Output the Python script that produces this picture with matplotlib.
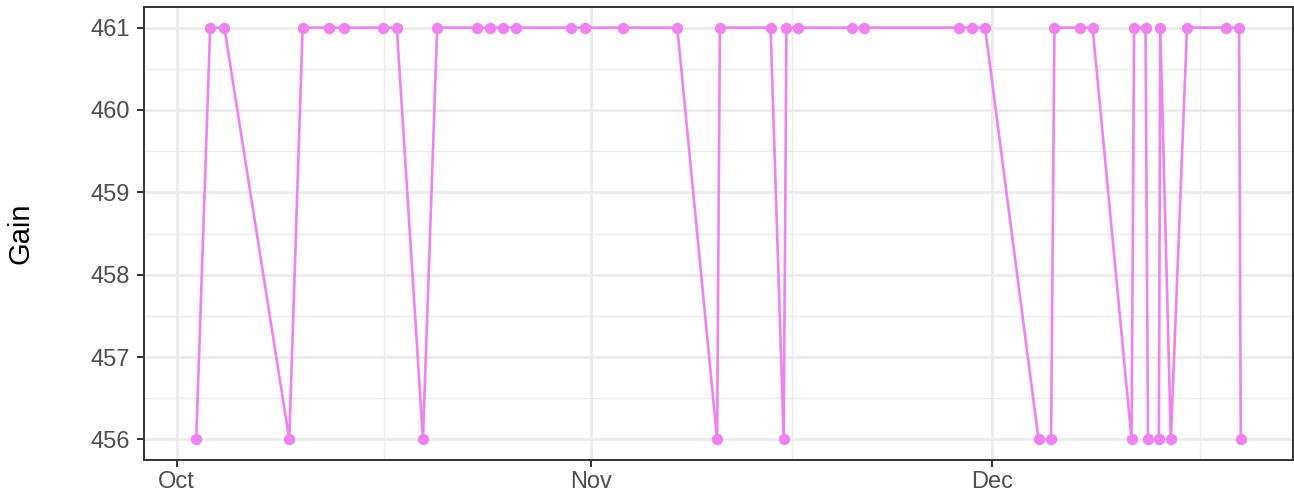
import numpy as np
import pandas as pd
import matplotlib
matplotlib.use("Agg")
import matplotlib.pyplot as plt
import matplotlib.dates as mdates
from matplotlib.ticker import FixedLocator

plt.rcParams['font.family'] = ['Liberation Sans', 'DejaVu Sans']

# data
times = pd.to_datetime([
    "2021-10-02 11:00", "2021-10-03 12:00", "2021-10-04 13:30", "2021-10-09 10:00",
    "2021-10-10 10:00", "2021-10-12 09:00", "2021-10-13 13:00", "2021-10-16 11:00",
    "2021-10-17 11:00", "2021-10-19 10:00", "2021-10-20 11:30", "2021-10-23 11:00",
    "2021-10-24 09:30", "2021-10-25 10:00", "2021-10-26 09:00", "2021-10-30 12:00",
    "2021-10-31 12:00", "2021-11-03 09:30", "2021-11-07 10:30", "2021-11-10 10:00",
    "2021-11-10 15:00", "2021-11-14 10:00", "2021-11-15 09:30", "2021-11-15 14:30",
    "2021-11-16 11:00", "2021-11-20 12:00", "2021-11-21 09:30", "2021-11-28 12:30",
    "2021-11-29 11:00", "2021-11-30 11:00", "2021-12-04 11:00", "2021-12-05 09:30",
    "2021-12-05 15:30", "2021-12-07 14:00", "2021-12-08 12:00", "2021-12-11 10:00",
    "2021-12-11 14:30", "2021-12-12 11:00", "2021-12-12 15:30", "2021-12-13 11:00",
    "2021-12-13 13:30", "2021-12-14 08:30", "2021-12-15 13:30", "2021-12-18 11:00",
    "2021-12-19 11:00", "2021-12-19 14:00",
])
gain = [456, 461, 461, 456, 461, 461, 461, 461, 461, 456,
        461, 461, 461, 461, 461, 461, 461, 461, 461, 456,
        461, 461, 456, 461, 461, 461, 461, 461, 461, 461,
        456, 456, 461, 461, 461, 456, 461, 461, 456, 456,
        461, 456, 461, 461, 461, 456]

month_starts = pd.to_datetime(["2021-09-01", "2021-10-01", "2021-11-01", "2021-12-01", "2022-01-01"])
month_labels = ["Sep", "Oct", "Nov", "Dec", "Jan"]
y_ticks = [456, 457, 458, 459, 460, 461]

line_col = "#EE82EE"
grid_col = "#EBEBEB"
text_col = "#4D4D4D"
frame_col = "#333333"

fig = plt.figure(figsize=(12.94, 4.97), dpi=100)
ax = fig.add_axes([144/1294, 1 - 460/497, 1149/1294, (460 - 7)/497])

ax.plot(times, gain, color=line_col, lw=1.9, zorder=3)
ax.plot(times, gain, 'o', color=line_col, ms=8.2, mec="none", zorder=4)

ax.margins(x=0.05, y=0.05)

# axes: major at month starts, minor halfway between
mnums = mdates.date2num(month_starts)
ax.xaxis.set_major_locator(FixedLocator(mnums))
ax.xaxis.set_minor_locator(FixedLocator((mnums[:-1] + mnums[1:]) / 2))
ax.set_xticklabels(month_labels)
ax.set_yticks(y_ticks)
ax.set_yticklabels([str(v) for v in y_ticks])
ax.yaxis.set_minor_locator(FixedLocator(np.arange(455.5, 461.6, 1.0)))

ax.grid(True, which="major", color=grid_col, lw=2.0, zorder=0)
ax.grid(True, which="minor", color=grid_col, lw=1.0, zorder=0)
ax.set_axisbelow(True)

for s in ax.spines.values():
    s.set_color(frame_col)
    s.set_linewidth(1.4)

ax.tick_params(which="major", length=5, width=1.4, color=frame_col,
               labelsize=17, labelcolor=text_col)
ax.tick_params(axis="y", pad=5)
ax.tick_params(axis="x", pad=3)
ax.tick_params(which="minor", length=0)

ax.set_ylabel("Gain", fontsize=21, color="black")
ax.yaxis.set_label_coords(-124/1149, 0.5)
ax.yaxis.label.set_va("center")

fig.savefig("out.png", dpi=100)
